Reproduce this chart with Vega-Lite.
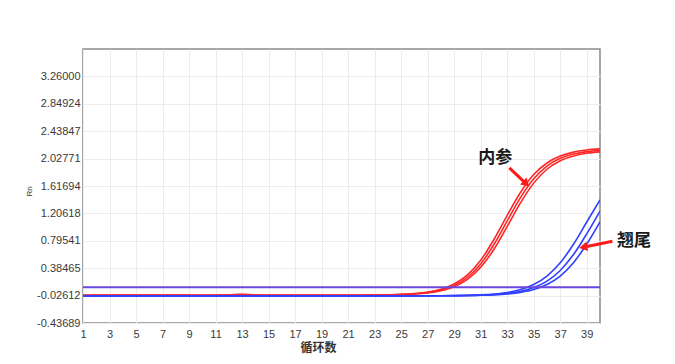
{
  "$schema": "https://vega.github.io/schema/vega-lite/v6.json",
  "autosize": "none",
  "width": 517,
  "height": 274,
  "padding": {"left": 83, "top": 49, "right": 75, "bottom": 41},
  "background": "white",
  "config": {
    "view": {"stroke": "#8a8a8a", "strokeWidth": 1.5},
    "axis": {"labelFont": "Liberation Sans", "labelFontSize": 11, "labelColor": "#3a3a3a", "gridColor": "#ececec", "gridWidth": 1, "domain": false, "ticks": false}
  },
  "datasets": {
    "curves": [
      {"w":"R1","g":"内参","c":1,"v":-0.02},{"w":"R1","g":"内参","c":2,"v":-0.021},{"w":"R1","g":"内参","c":3,"v":-0.02},{"w":"R1","g":"内参","c":4,"v":-0.019},{"w":"R1","g":"内参","c":5,"v":-0.02},{"w":"R1","g":"内参","c":6,"v":-0.02},{"w":"R1","g":"内参","c":7,"v":-0.021},{"w":"R1","g":"内参","c":8,"v":-0.02},{"w":"R1","g":"内参","c":9,"v":-0.02},{"w":"R1","g":"内参","c":10,"v":-0.022},{"w":"R1","g":"内参","c":11,"v":-0.02},{"w":"R1","g":"内参","c":12,"v":-0.016},{"w":"R1","g":"内参","c":13,"v":-0.006},{"w":"R1","g":"内参","c":14,"v":-0.017},{"w":"R1","g":"内参","c":15,"v":-0.02},{"w":"R1","g":"内参","c":16,"v":-0.02},{"w":"R1","g":"内参","c":17,"v":-0.021},{"w":"R1","g":"内参","c":18,"v":-0.02},{"w":"R1","g":"内参","c":19,"v":-0.02},{"w":"R1","g":"内参","c":20,"v":-0.02},{"w":"R1","g":"内参","c":21,"v":-0.021},{"w":"R1","g":"内参","c":22,"v":-0.02},{"w":"R1","g":"内参","c":23,"v":-0.018},
      {"w":"R1","g":"内参","c":24,"v":-0.014},{"w":"R1","g":"内参","c":25,"v":-0.008},{"w":"R1","g":"内参","c":26,"v":0.004},{"w":"R1","g":"内参","c":27,"v":0.027},{"w":"R1","g":"内参","c":28,"v":0.07},{"w":"R1","g":"内参","c":29,"v":0.148},{"w":"R1","g":"内参","c":30,"v":0.285},{"w":"R1","g":"内参","c":31,"v":0.504},{"w":"R1","g":"内参","c":32,"v":0.815},{"w":"R1","g":"内参","c":33,"v":1.177},{"w":"R1","g":"内参","c":34,"v":1.52},{"w":"R1","g":"内参","c":35,"v":1.788},{"w":"R1","g":"内参","c":36,"v":1.962},{"w":"R1","g":"内参","c":37,"v":2.066},{"w":"R1","g":"内参","c":38,"v":2.125},{"w":"R1","g":"内参","c":39,"v":2.156},{"w":"R1","g":"内参","c":40,"v":2.173},
      {"w":"R2","g":"内参","c":1,"v":-0.021},{"w":"R2","g":"内参","c":2,"v":-0.02},{"w":"R2","g":"内参","c":3,"v":-0.02},{"w":"R2","g":"内参","c":4,"v":-0.021},{"w":"R2","g":"内参","c":5,"v":-0.02},{"w":"R2","g":"内参","c":6,"v":-0.019},{"w":"R2","g":"内参","c":7,"v":-0.02},{"w":"R2","g":"内参","c":8,"v":-0.02},{"w":"R2","g":"内参","c":9,"v":-0.021},{"w":"R2","g":"内参","c":10,"v":-0.02},{"w":"R2","g":"内参","c":11,"v":-0.02},{"w":"R2","g":"内参","c":12,"v":-0.019},{"w":"R2","g":"内参","c":13,"v":-0.012},{"w":"R2","g":"内参","c":14,"v":-0.019},{"w":"R2","g":"内参","c":15,"v":-0.02},{"w":"R2","g":"内参","c":16,"v":-0.021},{"w":"R2","g":"内参","c":17,"v":-0.02},{"w":"R2","g":"内参","c":18,"v":-0.02},{"w":"R2","g":"内参","c":19,"v":-0.02},{"w":"R2","g":"内参","c":20,"v":-0.021},{"w":"R2","g":"内参","c":21,"v":-0.02},{"w":"R2","g":"内参","c":22,"v":-0.02},{"w":"R2","g":"内参","c":23,"v":-0.018},
      {"w":"R2","g":"内参","c":24,"v":-0.014},{"w":"R2","g":"内参","c":25,"v":-0.009},{"w":"R2","g":"内参","c":26,"v":0.001},{"w":"R2","g":"内参","c":27,"v":0.021},{"w":"R2","g":"内参","c":28,"v":0.058},{"w":"R2","g":"内参","c":29,"v":0.127},{"w":"R2","g":"内参","c":30,"v":0.249},{"w":"R2","g":"内参","c":31,"v":0.449},{"w":"R2","g":"内参","c":32,"v":0.74},{"w":"R2","g":"内参","c":33,"v":1.093},{"w":"R2","g":"内参","c":34,"v":1.443},{"w":"R2","g":"内参","c":35,"v":1.725},{"w":"R2","g":"内参","c":36,"v":1.916},{"w":"R2","g":"内参","c":37,"v":2.032},{"w":"R2","g":"内参","c":38,"v":2.097},{"w":"R2","g":"内参","c":39,"v":2.132},{"w":"R2","g":"内参","c":40,"v":2.15},
      {"w":"R3","g":"内参","c":1,"v":-0.02},{"w":"R3","g":"内参","c":2,"v":-0.02},{"w":"R3","g":"内参","c":3,"v":-0.021},{"w":"R3","g":"内参","c":4,"v":-0.02},{"w":"R3","g":"内参","c":5,"v":-0.02},{"w":"R3","g":"内参","c":6,"v":-0.021},{"w":"R3","g":"内参","c":7,"v":-0.02},{"w":"R3","g":"内参","c":8,"v":-0.019},{"w":"R3","g":"内参","c":9,"v":-0.02},{"w":"R3","g":"内参","c":10,"v":-0.021},{"w":"R3","g":"内参","c":11,"v":-0.02},{"w":"R3","g":"内参","c":12,"v":-0.02},{"w":"R3","g":"内参","c":13,"v":-0.015},{"w":"R3","g":"内参","c":14,"v":-0.02},{"w":"R3","g":"内参","c":15,"v":-0.021},{"w":"R3","g":"内参","c":16,"v":-0.02},{"w":"R3","g":"内参","c":17,"v":-0.02},{"w":"R3","g":"内参","c":18,"v":-0.021},{"w":"R3","g":"内参","c":19,"v":-0.02},{"w":"R3","g":"内参","c":20,"v":-0.02},{"w":"R3","g":"内参","c":21,"v":-0.02},{"w":"R3","g":"内参","c":22,"v":-0.021},{"w":"R3","g":"内参","c":23,"v":-0.019},
      {"w":"R3","g":"内参","c":24,"v":-0.015},{"w":"R3","g":"内参","c":25,"v":-0.011},{"w":"R3","g":"内参","c":26,"v":-0.002},{"w":"R3","g":"内参","c":27,"v":0.015},{"w":"R3","g":"内参","c":28,"v":0.048},{"w":"R3","g":"内参","c":29,"v":0.108},{"w":"R3","g":"内参","c":30,"v":0.217},{"w":"R3","g":"内参","c":31,"v":0.399},{"w":"R3","g":"内参","c":32,"v":0.668},{"w":"R3","g":"内参","c":33,"v":1.011},{"w":"R3","g":"内参","c":34,"v":1.364},{"w":"R3","g":"内参","c":35,"v":1.66},{"w":"R3","g":"内参","c":36,"v":1.868},{"w":"R3","g":"内参","c":37,"v":1.996},{"w":"R3","g":"内参","c":38,"v":2.067},{"w":"R3","g":"内参","c":39,"v":2.107},{"w":"R3","g":"内参","c":40,"v":2.128},
      {"w":"B1","g":"翘尾","c":1,"v":-0.03},{"w":"B1","g":"翘尾","c":2,"v":-0.03},{"w":"B1","g":"翘尾","c":3,"v":-0.031},{"w":"B1","g":"翘尾","c":4,"v":-0.03},{"w":"B1","g":"翘尾","c":5,"v":-0.03},{"w":"B1","g":"翘尾","c":6,"v":-0.029},{"w":"B1","g":"翘尾","c":7,"v":-0.03},{"w":"B1","g":"翘尾","c":8,"v":-0.03},{"w":"B1","g":"翘尾","c":9,"v":-0.031},{"w":"B1","g":"翘尾","c":10,"v":-0.03},{"w":"B1","g":"翘尾","c":11,"v":-0.03},{"w":"B1","g":"翘尾","c":12,"v":-0.03},{"w":"B1","g":"翘尾","c":13,"v":-0.029},{"w":"B1","g":"翘尾","c":14,"v":-0.03},{"w":"B1","g":"翘尾","c":15,"v":-0.03},{"w":"B1","g":"翘尾","c":16,"v":-0.031},{"w":"B1","g":"翘尾","c":17,"v":-0.03},{"w":"B1","g":"翘尾","c":18,"v":-0.03},{"w":"B1","g":"翘尾","c":19,"v":-0.03},{"w":"B1","g":"翘尾","c":20,"v":-0.03},{"w":"B1","g":"翘尾","c":21,"v":-0.029},{"w":"B1","g":"翘尾","c":22,"v":-0.03},{"w":"B1","g":"翘尾","c":23,"v":-0.03},{"w":"B1","g":"翘尾","c":24,"v":-0.03},{"w":"B1","g":"翘尾","c":25,"v":-0.03},{"w":"B1","g":"翘尾","c":26,"v":-0.03},{"w":"B1","g":"翘尾","c":27,"v":-0.029},
      {"w":"B1","g":"翘尾","c":28,"v":-0.028},{"w":"B1","g":"翘尾","c":29,"v":-0.026},{"w":"B1","g":"翘尾","c":30,"v":-0.022},{"w":"B1","g":"翘尾","c":31,"v":-0.015},{"w":"B1","g":"翘尾","c":32,"v":-0.002},{"w":"B1","g":"翘尾","c":33,"v":0.021},{"w":"B1","g":"翘尾","c":34,"v":0.064},{"w":"B1","g":"翘尾","c":35,"v":0.139},{"w":"B1","g":"翘尾","c":36,"v":0.266},{"w":"B1","g":"翘尾","c":37,"v":0.465},{"w":"B1","g":"翘尾","c":38,"v":0.743},{"w":"B1","g":"翘尾","c":39,"v":1.077},{"w":"B1","g":"翘尾","c":40,"v":1.409},
      {"w":"B2","g":"翘尾","c":1,"v":-0.03},{"w":"B2","g":"翘尾","c":2,"v":-0.031},{"w":"B2","g":"翘尾","c":3,"v":-0.03},{"w":"B2","g":"翘尾","c":4,"v":-0.03},{"w":"B2","g":"翘尾","c":5,"v":-0.03},{"w":"B2","g":"翘尾","c":6,"v":-0.03},{"w":"B2","g":"翘尾","c":7,"v":-0.031},{"w":"B2","g":"翘尾","c":8,"v":-0.03},{"w":"B2","g":"翘尾","c":9,"v":-0.03},{"w":"B2","g":"翘尾","c":10,"v":-0.029},{"w":"B2","g":"翘尾","c":11,"v":-0.03},{"w":"B2","g":"翘尾","c":12,"v":-0.03},{"w":"B2","g":"翘尾","c":13,"v":-0.03},{"w":"B2","g":"翘尾","c":14,"v":-0.031},{"w":"B2","g":"翘尾","c":15,"v":-0.03},{"w":"B2","g":"翘尾","c":16,"v":-0.03},{"w":"B2","g":"翘尾","c":17,"v":-0.03},{"w":"B2","g":"翘尾","c":18,"v":-0.029},{"w":"B2","g":"翘尾","c":19,"v":-0.03},{"w":"B2","g":"翘尾","c":20,"v":-0.03},{"w":"B2","g":"翘尾","c":21,"v":-0.03},{"w":"B2","g":"翘尾","c":22,"v":-0.031},{"w":"B2","g":"翘尾","c":23,"v":-0.03},{"w":"B2","g":"翘尾","c":24,"v":-0.03},{"w":"B2","g":"翘尾","c":25,"v":-0.03},{"w":"B2","g":"翘尾","c":26,"v":-0.03},{"w":"B2","g":"翘尾","c":27,"v":-0.029},
      {"w":"B2","g":"翘尾","c":28,"v":-0.028},{"w":"B2","g":"翘尾","c":29,"v":-0.027},{"w":"B2","g":"翘尾","c":30,"v":-0.024},{"w":"B2","g":"翘尾","c":31,"v":-0.019},{"w":"B2","g":"翘尾","c":32,"v":-0.01},{"w":"B2","g":"翘尾","c":33,"v":0.007},{"w":"B2","g":"翘尾","c":34,"v":0.038},{"w":"B2","g":"翘尾","c":35,"v":0.095},{"w":"B2","g":"翘尾","c":36,"v":0.192},{"w":"B2","g":"翘尾","c":37,"v":0.351},{"w":"B2","g":"翘尾","c":38,"v":0.589},{"w":"B2","g":"翘尾","c":39,"v":0.9},{"w":"B2","g":"翘尾","c":40,"v":1.241},
      {"w":"B3","g":"翘尾","c":1,"v":-0.031},{"w":"B3","g":"翘尾","c":2,"v":-0.03},{"w":"B3","g":"翘尾","c":3,"v":-0.03},{"w":"B3","g":"翘尾","c":4,"v":-0.03},{"w":"B3","g":"翘尾","c":5,"v":-0.029},{"w":"B3","g":"翘尾","c":6,"v":-0.03},{"w":"B3","g":"翘尾","c":7,"v":-0.03},{"w":"B3","g":"翘尾","c":8,"v":-0.03},{"w":"B3","g":"翘尾","c":9,"v":-0.03},{"w":"B3","g":"翘尾","c":10,"v":-0.031},{"w":"B3","g":"翘尾","c":11,"v":-0.03},{"w":"B3","g":"翘尾","c":12,"v":-0.03},{"w":"B3","g":"翘尾","c":13,"v":-0.03},{"w":"B3","g":"翘尾","c":14,"v":-0.03},{"w":"B3","g":"翘尾","c":15,"v":-0.029},{"w":"B3","g":"翘尾","c":16,"v":-0.03},{"w":"B3","g":"翘尾","c":17,"v":-0.03},{"w":"B3","g":"翘尾","c":18,"v":-0.03},{"w":"B3","g":"翘尾","c":19,"v":-0.031},{"w":"B3","g":"翘尾","c":20,"v":-0.03},{"w":"B3","g":"翘尾","c":21,"v":-0.03},{"w":"B3","g":"翘尾","c":22,"v":-0.03},{"w":"B3","g":"翘尾","c":23,"v":-0.03},{"w":"B3","g":"翘尾","c":24,"v":-0.03},{"w":"B3","g":"翘尾","c":25,"v":-0.03},{"w":"B3","g":"翘尾","c":26,"v":-0.03},{"w":"B3","g":"翘尾","c":27,"v":-0.03},
      {"w":"B3","g":"翘尾","c":28,"v":-0.029},{"w":"B3","g":"翘尾","c":29,"v":-0.028},{"w":"B3","g":"翘尾","c":30,"v":-0.026},{"w":"B3","g":"翘尾","c":31,"v":-0.022},{"w":"B3","g":"翘尾","c":32,"v":-0.015},{"w":"B3","g":"翘尾","c":33,"v":-0.002},{"w":"B3","g":"翘尾","c":34,"v":0.022},{"w":"B3","g":"翘尾","c":35,"v":0.064},{"w":"B3","g":"翘尾","c":36,"v":0.14},{"w":"B3","g":"翘尾","c":37,"v":0.267},{"w":"B3","g":"翘尾","c":38,"v":0.467},{"w":"B3","g":"翘尾","c":39,"v":0.747},{"w":"B3","g":"翘尾","c":40,"v":1.08}
    ],
    "threshold": [{"t": 0.1}],
    "notes": [
      {"label": "内参", "tx": 32.1, "ty": 2.03, "x0": 33.16, "y0": 1.89, "x1": 34.44, "y1": 1.65},
      {"label": "翘尾", "tx": 42.57, "ty": 0.79, "x0": 40.94, "y0": 0.79, "x1": 38.73, "y1": 0.70}
    ]
  },
  "layer": [
    {
      "data": {"name": "curves"},
      "mark": {"type": "line", "strokeWidth": 1.6, "interpolate": "monotone", "clip": true},
      "encoding": {
        "x": {
          "field": "c", "type": "quantitative",
          "scale": {"domain": [1, 40], "nice": false, "zero": false},
          "axis": {
            "values": [1,3,5,7,9,11,13,15,17,19,21,23,25,27,29,31,33,35,37,39],
            "tickCount": 60,
            "format": "d",
            "labelPadding": 5,
            "title": "循环数",
            "titleFont": "Noto Sans CJK SC",
            "titleFontSize": 12,
            "titleFontWeight": "bold",
            "titleColor": "#333333",
            "titleX": 235,
            "titleY": 24,
            "titleAlign": "center",
            "titleBaseline": "middle",
            "labelOverlap": false,
            "labelFlush": false
          }
        },
        "y": {
          "field": "v", "type": "quantitative",
          "scale": {"domain": [-0.43689, 3.67077], "nice": false, "zero": false},
          "axis": {
            "values": [-0.43689, -0.02612, 0.38465, 0.79541, 1.20618, 1.61694, 2.02771, 2.43847, 2.84924, 3.26],
            "tickCount": 30,
            "labelExpr": "replace(format(datum.value, '.5f'), '\u2212', '-')",
            "labelPadding": 3,
            "labelOverlap": false,
            "labelFlush": false,
            "title": "Rn",
            "titleFont": "Liberation Sans",
            "titleFontSize": 8,
            "titleFontWeight": "normal",
            "titleColor": "#333333",
            "titleX": -54,
            "titleY": 142,
            "titleAngle": -90,
            "titleAlign": "center",
            "titleBaseline": "middle"
          }
        },
        "detail": {"field": "w"},
        "color": {
          "field": "g", "type": "nominal",
          "scale": {"domain": ["内参", "翘尾"], "range": ["#ff2626", "#3040ff"]},
          "legend": null
        }
      }
    },
    {
      "data": {"name": "threshold"},
      "mark": {"type": "rule", "color": "#6a48e0", "strokeWidth": 2},
      "encoding": {"y": {"field": "t", "type": "quantitative"}}
    },
    {
      "data": {"name": "notes"},
      "mark": {"type": "rule", "color": "#ff1a1a", "strokeWidth": 3},
      "encoding": {
        "x": {"field": "x0", "type": "quantitative"},
        "y": {"field": "y0", "type": "quantitative"},
        "x2": {"field": "x1"},
        "y2": {"field": "y1"}
      }
    },
    {
      "data": {"name": "notes"},
      "transform": [{"filter": "datum.label == '内参'"}],
      "mark": {"type": "point", "shape": "triangle-up", "filled": true, "color": "#ff1a1a", "size": 90, "angle": 133, "opacity": 1},
      "encoding": {
        "x": {"field": "x1", "type": "quantitative"},
        "y": {"field": "y1", "type": "quantitative"}
      }
    },
    {
      "data": {"name": "notes"},
      "transform": [{"filter": "datum.label == '翘尾'"}],
      "mark": {"type": "point", "shape": "triangle-up", "filled": true, "color": "#ff1a1a", "size": 90, "angle": 259, "opacity": 1},
      "encoding": {
        "x": {"field": "x1", "type": "quantitative"},
        "y": {"field": "y1", "type": "quantitative"}
      }
    },
    {
      "data": {"name": "notes"},
      "mark": {"type": "text", "font": "Noto Sans CJK SC", "fontSize": 17, "fontWeight": "bold", "color": "#1a1a1a", "align": "center", "baseline": "middle"},
      "encoding": {
        "x": {"field": "tx", "type": "quantitative"},
        "y": {"field": "ty", "type": "quantitative"},
        "text": {"field": "label"}
      }
    }
  ]
}
